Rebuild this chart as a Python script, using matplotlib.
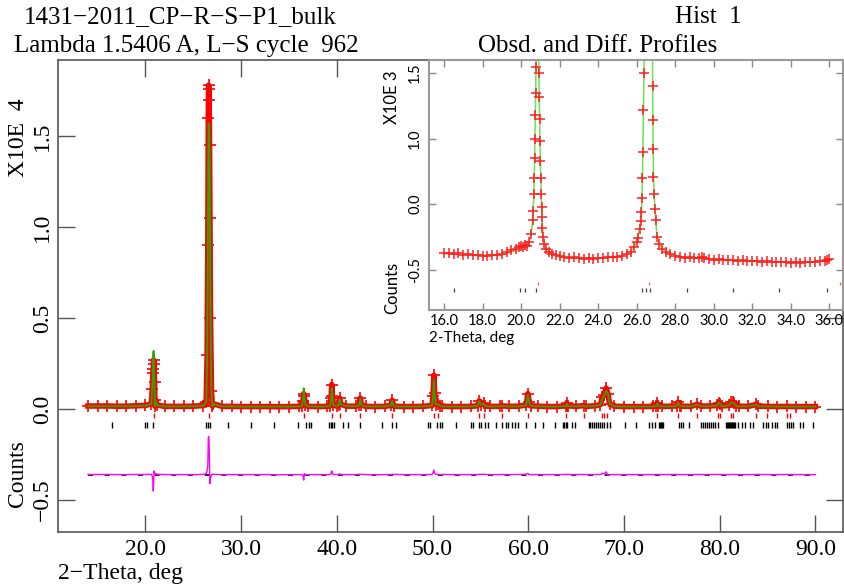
import numpy as np
import matplotlib.pyplot as plt

plt.rcParams['font.family'] = ['Liberation Serif', 'DejaVu Serif']

# ---- main powder pattern, intensity in units of 10^4 counts
bg_x = [14, 15, 16, 17, 18, 19, 20, 21, 22, 23, 24, 25, 26, 27, 28, 29, 30, 31,
        32, 33, 34, 35, 36, 37, 38, 39, 40, 41, 42, 43, 44, 45, 46, 47, 48, 49,
        51, 52, 53, 54,
        56, 57, 58, 59,
        61, 62, 63, 64, 65, 66, 67,
        69, 70, 71, 72, 73, 74, 75, 76, 77, 78, 79,
        82, 83, 84, 85, 86, 87, 88, 89, 90]
bg_obs = [.017, .017, .017, .016, .016, .018, .020, .016, .015, .015, .015, .016,
          .019, .017, .015, .015, .014, .014, .014, .014, .013, .014, .015, .015,
          .014, .015, .016, .016, .016, .015, .014, .015, .016, .014, .014, .015,
          .016, .014, .014, .015,
          .015, .015, .015, .016,
          .016, .014, .014, .015, .015, .015, .018,
          .016, .014, .014, .014, .015, .015, .016, .016, .015, .016, .017,
          .016, .015, .016, .015, .014, .015, .014, .014, .014]
bg_calc = [.016, .016, .016, .016, .016, .017, .019, .016, .015, .015, .015, .016,
           .018, .016, .015, .015, .014, .014, .014, .014, .014, .014, .015, .015,
           .014, .015, .015, .016, .016, .015, .015, .015, .015, .014, .014, .015,
           .015, .014, .014, .015,
           .015, .015, .015, .015,
           .016, .014, .014, .015, .015, .015, .017,
           .016, .014, .014, .014, .015, .015, .015, .016, .015, .016, .016,
           .016, .015, .015, .015, .014, .014, .014, .014, .014]

pk_x = [20.62, 20.72, 20.78, 20.82, 20.86, 20.90, 20.95, 21.05, 21.25,
        26.35, 26.45, 26.52, 26.57, 26.60, 26.63, 26.66, 26.70, 26.74, 26.80, 26.90, 27.05,
        36.35, 36.46, 36.54, 36.60, 36.70,
        39.30, 39.40, 39.47, 39.54, 39.65,
        40.20, 40.29, 40.38,
        42.33, 42.45, 42.57,
        45.65, 45.79, 45.93,
        49.95, 50.05, 50.14, 50.22, 50.35, 50.62, 50.80,
        54.70, 54.87, 55.05, 55.33, 55.50,
        57.24,
        59.80, 59.96, 60.10, 60.25,
        63.90, 64.03, 64.15,
        65.79,
        67.55, 67.74, 67.95, 68.14, 68.32, 68.50,
        73.35, 73.47, 73.60,
        75.50, 75.66, 75.82,
        77.68,
        79.75, 79.88, 80.04, 80.20,
        81.00, 81.17, 81.35, 81.49, 81.70,
        83.84]
pk_obs = [.030, .110, .200, .220, .270, .250, .150, .050, .022,
          .040, .300, .900, 1.60, 1.78, 1.76, 1.70, 1.45, 1.05, .500, .100, .030,
          .017, .045, .085, .070, .025,
          .018, .060, .135, .070, .022,
          .025, .060, .028,
          .022, .060, .024,
          .020, .048, .022,
          .020, .070, .185, .090, .025, .030, .016,
          .018, .045, .025, .032, .017,
          .018,
          .022, .085, .040, .018,
          .018, .032, .018,
          .019,
          .025, .065, .080, .115, .085, .030,
          .017, .032, .017,
          .018, .037, .018,
          .026,
          .020, .036, .030, .017,
          .020, .037, .038, .034, .018,
          .026]
pk_calc = [.028, .120, .240, .310, .320, .230, .140, .045, .020,
           .035, .280, .850, 1.40, 1.57, 1.56, 1.54, 1.40, 1.10, .520, .100, .028,
           .016, .050, .115, .065, .025,
           .017, .055, .115, .065, .022,
           .024, .055, .027,
           .020, .058, .022,
           .020, .046, .021,
           .019, .060, .160, .085, .024, .028, .016,
           .017, .044, .024, .030, .016,
           .017,
           .020, .078, .040, .018,
           .017, .030, .017,
           .018,
           .024, .058, .075, .100, .088, .030,
           .016, .031, .016,
           .017, .036, .018,
           .025,
           .019, .035, .030, .016,
           .020, .036, .037, .033, .017,
           .025]

# reflection markers (phase 1 = red, phase 2 = black)
refl_1 = [20.86, 26.64, 36.54, 39.47, 40.29, 42.45, 45.79, 50.14, 50.62, 54.87,
          55.33, 57.24, 59.96, 63.95, 65.79, 67.74, 67.95, 68.2, 73.45, 75.66,
          77.65, 79.85, 80.05, 81.17, 81.4, 83.8, 84.95, 87.05, 87.35]
refl_2 = [16.5, 19.96, 20.2, 20.76, 26.3, 26.5, 26.7, 28.6, 31.0, 33.4, 35.9,
          36.75, 37.1, 37.3, 39.2, 39.35, 39.5, 39.7, 40.6, 41.2, 42.4, 44.7,
          45.8, 46.2, 49.5, 49.7, 50.5, 50.8, 50.96, 52.5, 54.0, 54.25, 54.9,
          55.1, 55.5, 55.8, 56.6, 57.3, 57.7, 57.9, 58.3, 58.6, 58.9, 59.8, 60.7,
          61.5, 62.8, 63.6, 63.75, 63.9, 64.0, 64.6, 64.9, 66.3, 66.5, 66.7, 66.9,
          67.1, 67.3, 67.5, 67.7, 67.9, 68.2, 68.5, 70.1, 71.3, 72.6, 72.9, 73.2,
          73.7, 73.8, 73.9, 74.0, 74.1, 75.8, 76.0, 76.2, 76.8, 78.1, 78.3, 78.5,
          78.7, 78.9, 79.1, 79.3, 79.5, 79.85, 80.7, 80.8, 80.9, 81.0, 81.1, 81.2,
          81.3, 81.4, 81.5, 81.6, 81.9, 82.3, 82.7, 83.2, 83.5, 84.5, 84.8, 85.1,
          85.5, 85.8, 86.0, 87.0, 87.2, 87.45, 87.7, 88.4, 88.7, 89.8]

# ---- zoomed view (own scale)
zoom_x = [16.0, 16.25, 16.5, 16.75, 17.0, 17.25, 17.5, 17.75, 18.0, 18.25, 18.5,
          18.75, 19.0, 19.25, 19.5, 19.75, 19.9, 20.0, 20.1, 20.2, 20.3, 20.4, 20.5,
          20.6, 20.63, 20.66, 20.68, 20.70, 20.72, 20.74, 20.76, 20.78, 20.82, 20.86,
          20.90, 20.92, 20.94, 20.96, 20.98, 21.00, 21.02, 21.04, 21.06, 21.08, 21.10,
          21.15, 21.20,
          21.3, 21.45, 21.6, 21.8, 22.0, 22.25, 22.5, 22.75, 23.0, 23.25, 23.5, 23.75,
          24.0, 24.25, 24.5, 24.75, 25.0, 25.25, 25.5, 25.7, 25.85, 26.0,
          26.09, 26.15, 26.20, 26.25, 26.28, 26.30, 26.32, 26.35, 26.38, 26.41, 26.50,
          26.64, 26.78, 26.82, 26.83, 26.84, 26.855, 26.87, 26.90, 26.94, 26.98, 27.05,
          27.15,
          27.3, 27.5, 27.75, 28.0, 28.25, 28.5, 28.75, 29.0, 29.25, 29.4, 29.5, 29.75,
          30.0, 30.25, 30.5, 30.75, 31.0, 31.25, 31.5, 31.75, 32.0, 32.25, 32.5, 32.75,
          33.0, 33.25, 33.5, 33.75, 34.0, 34.25, 34.5, 34.75, 35.0, 35.25, 35.5, 35.75,
          35.9, 36.0]
zoom_obs = [-.375, -.370, -.380, -.372, -.385, -.378, -.390, -.384, -.392, -.395, -.388,
            -.384, -.380, -.368, -.352, -.342, -.330, -.318, -.328, -.310, -.318, -.290, -.230,
            -.12, -.05, .08, .20, .35, .50, .68, .85, 1.05, 1.40, 1.70,
            1.25, 1.00, .82, .65, .48, .33, .20, .08, -.02, -.10, -.18,
            -.25, -.30,
            -.340, -.365, -.378, -.390, -.398, -.402, -.410, -.404, -.412, -.418, -.410, -.416,
            -.410, -.412, -.404, -.400, -.402, -.392, -.380, -.362, -.330, -.290,
            -.26, -.19, -.13, -.06, .05, .20, .40, .72, 1.00, 1.30, 1.90,
            2.10, 1.90, 1.20, .90, .64, .42, .21, .08, -.04, -.12, -.25,
            -.30,
            -.340, -.365, -.378, -.395, -.402, -.408, -.404, -.412, -.410, -.400, -.414, -.418,
            -.424, -.420, -.428, -.424, -.426, -.432, -.428, -.434, -.436, -.432, -.438, -.436,
            -.440, -.438, -.444, -.440, -.446, -.442, -.448, -.444, -.442, -.440, -.436, -.432,
            -.428, -.420]
zcalc_x = [16.0, 17.0, 18.0, 19.0, 19.5, 19.9, 20.0, 20.1, 20.3, 20.5, 20.6, 20.66,
           20.70, 20.74, 20.78, 20.86, 20.92, 20.96, 21.0, 21.04, 21.08, 21.15, 21.3,
           21.6, 22.0, 23.0, 24.0, 25.0, 25.5, 25.85, 26.0, 26.15, 26.25, 26.30, 26.35,
           26.41, 26.64, 26.82, 26.84, 26.87, 26.94, 27.05, 27.3, 27.75, 28.5, 30.0,
           32.0, 34.0, 35.0, 36.0]
zcalc_y = [-.378, -.384, -.390, -.385, -.365, -.345, -.335, -.345, -.330, -.240, -.13, .06,
           .33, .70, 1.10, 1.80, 1.05, .66, .34, .09, -.10, -.25, -.34,
           -.38, -.40, -.412, -.412, -.402, -.382, -.335, -.29, -.19, -.07, .18, .70,
           1.30, 2.20, 1.22, .66, .22, -.03, -.24, -.34, -.38, -.405, -.422,
           -.434, -.442, -.440, -.425]
zoom_yticks = [-0.5, 0.0, 0.5, 1.0]
zoom_ylabels = ['-0.5', '0.0', '1.0', '1.5']

x = np.array(bg_x + pk_x, dtype=float)
order = np.argsort(x)
tth = x[order]
obs = np.array(bg_obs + pk_obs)[order]
calc = np.array(bg_calc + pk_calc)[order]
diff_offset = -0.36
diff = obs - calc + diff_offset

fig = plt.figure(figsize=(8.44, 5.84), dpi=100)
ax = fig.add_axes([0.0691, 0.0885, 0.9294, 0.8087])

ax.plot(tth, obs, color='red', lw=4, marker='+', ms=8, mew=1.2, zorder=2)
ax.plot(tth, calc, color='#2aa800', lw=1.3, zorder=3)
ax.plot([tth[0], tth[-1]], [diff_offset, diff_offset], color='black', lw=1.2,
        dashes=(3, 7), zorder=2)
ax.plot(tth, diff, color='#ff00ff', lw=1, zorder=3)
ax.vlines(refl_1, -0.049, -0.022, color='red', lw=1)
ax.vlines(refl_2, -0.104, -0.071, color='black', lw=1)

ax.set_xlim(10.9, 92.86)
ax.set_ylim(-0.677, 1.918)
ax.set_xticks([20, 30, 40, 50, 60, 70, 80, 90])
ax.set_xticklabels(['20.0', '30.0', '40.0', '50.0', '60.0', '70.0', '80.0', '90.0'])
ax.set_yticks([-0.5, 0.0, 0.5, 1.0, 1.5])
ax.set_yticklabels(['\u22120.5', '0.0', '0.5', '1.0', '1.5'])
ax.tick_params(direction='in', length=12, width=1, color='#555555',
               top=True, right=True, labelsize=17)
ax.tick_params(axis='x', pad=5)
ax.tick_params(axis='y', pad=4, labelrotation=90)
for lbl in ax.get_yticklabels():
    lbl.set_va('center')
for sp in ax.spines.values():
    sp.set_color('#555555')
    sp.set_linewidth(1.2)

fig.text(18 / 844, 1 - 138 / 584, 'X10E  4', rotation=90, ha='center', va='center', fontsize=17)
fig.text(18 / 844, 1 - 474 / 584, 'Counts', rotation=90, ha='center', va='center', fontsize=17)
fig.text(58 / 844, 1 - 573 / 584, '2\u2212Theta, deg', ha='left', va='center', fontsize=17)
fig.text(24 / 844, 1 - 17 / 584, '1431\u22122011_CP\u2212R\u2212S\u2212P1_bulk', ha='left', va='center', fontsize=18)
fig.text(742 / 844, 1 - 17 / 584, 'Hist  1', ha='right', va='center', fontsize=18)
fig.text(14 / 844, 1 - 46 / 584, 'Lambda 1.5406 A, L\u2212S cycle  962', ha='left', va='center', fontsize=18)
fig.text(478 / 844, 1 - 46 / 584, 'Obsd. and Diff. Profiles', ha='left', va='center', fontsize=18)

# ---- inset
axi = fig.add_axes([429 / 844, 1 - 310 / 584, 414 / 844, 250 / 584], zorder=5)
axi.set_facecolor('white')
axi.plot(zcalc_x, zcalc_y, color='#6ee05a', lw=1.1, zorder=2)
axi.plot(zoom_x, zoom_obs, ls='none', marker='+', ms=7, mew=1.1, color='#ff2020', zorder=3)
axi.vlines(refl_1, -0.62, -0.59, color='#ff5050', lw=0.9)
axi.vlines(refl_2, -0.67, -0.64, color='#444444', lw=0.9)
axi.set_xlim(15.22, 36.71)
axi.set_ylim(-0.807, 1.10)
axi.set_xticks([16, 18, 20, 22, 24, 26, 28, 30, 32, 34, 36])
axi.set_xticklabels(['16.0', '18.0', '20.0', '22.0', '24.0', '26.0', '28.0',
                     '30.0', '32.0', '34.0', '36.0'], fontfamily='Lato')
axi.set_yticks(zoom_yticks)
axi.set_yticklabels(zoom_ylabels, fontfamily='Lato')
axi.tick_params(direction='in', length=5, width=1, color='#888888',
                top=True, right=True, labelsize=10.5)
axi.tick_params(axis='x', pad=3)
axi.tick_params(axis='y', pad=5, labelrotation=90)
for lbl in axi.get_yticklabels():
    lbl.set_va('center')
for sp in axi.spines.values():
    sp.set_color('#999999')
    sp.set_linewidth(1.5)
fig.text(392 / 844, 1 - 97 / 584, 'X10E 3', rotation=90, ha='center', va='center',
         fontsize=12, fontfamily='Lato', zorder=6)
fig.text(392 / 844, 1 - 288 / 584, 'Counts', rotation=90, ha='center', va='center',
         fontsize=12, fontfamily='Lato', zorder=6)
fig.text(429 / 844, 1 - 338 / 584, '2-Theta, deg', ha='left', va='center',
         fontsize=11, fontfamily='Lato', zorder=6)

fig.savefig('out.png', dpi=100)
